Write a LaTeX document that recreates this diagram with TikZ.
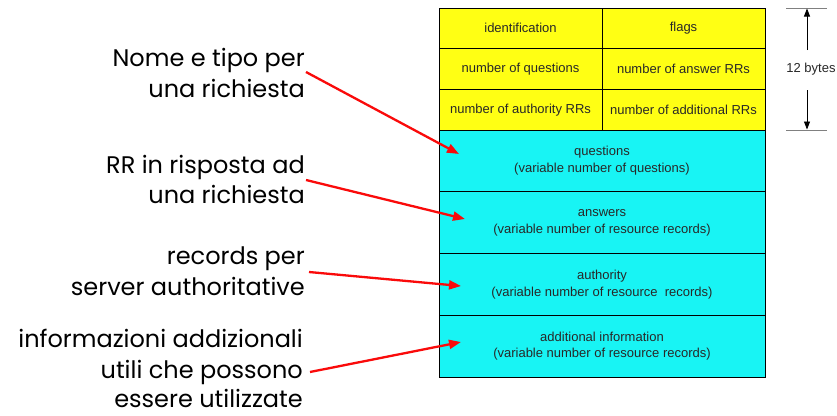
\documentclass[tikz,border=0pt]{standalone}
\usepackage{fontspec}
\setmainfont{Liberation Sans}
\newfontfamily\labfont{Poppins}
\usetikzlibrary{arrows.meta}
\definecolor{cellyellow}{RGB}{255,255,20}
\definecolor{cellcyan}{RGB}{24,244,244}
\definecolor{celltext}{RGB}{40,40,40}
\definecolor{arrred}{RGB}{250,10,10}
\tikzset{
  cell/.style={draw=black, line width=0.8pt, inner sep=0pt, text=celltext,
    font=\fontsize{13}{17}\selectfont, align=center},
  ycell/.style={cell, fill=cellyellow, minimum width=163pt, minimum height=40.67pt},
  ccell/.style={cell, fill=cellcyan, minimum width=326pt, minimum height=61.75pt},
  lab/.style={font=\labfont\fontsize{24}{30.5}\selectfont, align=right, anchor=north east, inner sep=0pt, text=black},
  callout/.style={draw=arrred, line width=2.3pt, -{Triangle[length=12pt,width=9pt]}},
  dim/.style={draw=black, line width=0.8pt, -{Triangle[length=8pt,width=6pt]}},
  tick/.style={draw=gray, line width=1pt}
}
\begin{document}
\begin{tikzpicture}[x=1pt,y=-1pt]
\useasboundingbox[fill=white] (0,0) rectangle (837,415);
% header cells
\node[ycell] (id) at (520.5,28.33) {identification};
\node[ycell] (fl) at (683.5,28.33) {flags};
\node[ycell] (nq) at (520.5,69) {number of questions};
\node[ycell] (na) at (683.5,69) {number of answer RRs};
\node[ycell] (nau) at (520.5,109.67) {number of authority RRs};
\node[ycell] (nad) at (683.5,109.67) {number of additional RRs};
% variable sections
\node[ccell] (q) at (602,160.88) {questions\\(variable number of questions)};
\node[ccell] (ans) at (602,222.63) {answers\\(variable number of resource records)};
\node[ccell] (aut) at (602,284.38) {authority\\(variable number of resource\ \ records)};
\node[ccell] (add) at (602,346.13) {additional information\\(variable number of resource records)};
% 12 bytes dimension
\coordinate (t1a) at (786,8); \coordinate (t1b) at (827,8);
\coordinate (t2a) at (786,130); \coordinate (t2b) at (827,130);
\draw[tick] (t1a) -- (t1b);
\draw[tick] (t2a) -- (t2b);
\node[font=\fontsize{13}{17}\selectfont, text=celltext, inner sep=0pt] (bytes) at (811,69.5) {12 bytes};
\coordinate (du) at (807,50); \coordinate (dt) at (807,8.5);
\coordinate (dd) at (807,90); \coordinate (db) at (807,129.5);
\draw[dim] (du) -- (dt);
\draw[dim] (dd) -- (db);
% left labels
\node[lab] (l1) at (305,48) {Nome e tipo per\\[1pt]una richiesta};
\node[lab] (l2) at (305,155) {RR in risposta ad\\una richiesta};
\node[lab] (l3) at (305,247) {records per\\server authoritative};
\node[lab] (l4) at (303,329) {informazioni addizionali\\utili che possono\\[-1pt]essere utilizzate};
% callout arrows
\coordinate (s1) at (306,72);  \coordinate (e1) at (459,154);
\coordinate (s2) at (306,180); \coordinate (e2) at (465,219);
\coordinate (s3) at (309,272); \coordinate (e3) at (461,286);
\coordinate (s4) at (310,372); \coordinate (e4) at (461,342);
\draw[callout] (s1) -- (e1);
\draw[callout] (s2) -- (e2);
\draw[callout] (s3) -- (e3);
\draw[callout] (s4) -- (e4);
\end{tikzpicture}
\end{document}
